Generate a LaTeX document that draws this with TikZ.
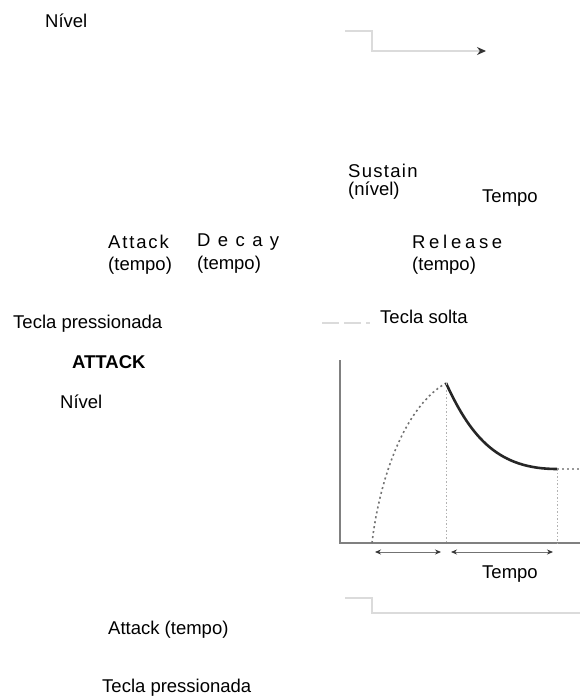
\documentclass[tikz,border=0pt]{standalone}
\usepackage{fontspec}
\setmainfont{Liberation Sans}
\usetikzlibrary{arrows,arrows.meta,positioning}
\tikzset{lbl/.style={inner sep=0pt, anchor=base west, font=\fontsize{18.5}{20}\selectfont}}
\tikzset{pale/.style={draw=black!14, line width=1.3pt}}
\tikzset{axis/.style={draw=black!50, line width=2pt}}
\tikzset{guide/.style={draw=black!30, line width=1pt, dash pattern=on 1.5pt off 2pt}}
\tikzset{dots/.style={draw=black!55, line width=1.6pt, dash pattern=on 2pt off 3pt}}
\tikzset{span/.style={draw=black!55, line width=0.8pt, {Stealth[black!80, length=6pt, width=5pt]}-{Stealth[black!80, length=6pt, width=5pt]}}}

\begin{document}
\begin{tikzpicture}[x=1pt, y=-1pt, >=stealth]
\useasboundingbox (0,0) rectangle (580,697);
% labels
\node[lbl] (nivTop) at (45,27) {Nível};
\node[lbl] (sus) at (348,177) {\addfontfeatures{LetterSpace=7}Sustain};
\node[lbl, below=18pt of sus.base west, anchor=base west] (susN) {(nível)};
\node[lbl] (tempoTop) at (482,202) {Tempo};
\node[lbl] (atk) at (108,248) {\addfontfeatures{LetterSpace=10}Attack};
\node[lbl, below=22pt of atk.base west, anchor=base west] (atkT) {(tempo)};
\node[lbl] (dec) at (197,246) {\addfontfeatures{LetterSpace=40}Decay};
\node[lbl, below=23pt of dec.base west, anchor=base west] (decT) {(tempo)};
\node[lbl] (rel) at (412,248) {\addfontfeatures{LetterSpace=20}Release};
\node[lbl, below=22pt of rel.base west, anchor=base west] (relT) {(tempo)};
\node[lbl] (pressA) at (13,328) {Tecla pressionada};
\node[lbl] (solta) at (380,323) {Tecla solta};
\node[lbl, font=\fontsize{18.5}{20}\selectfont\bfseries] (attack) at (72,368) {ATTACK};
\node[lbl] (nivMid) at (60,408) {Nível};
\node[lbl] (tempoBot) at (482,578) {Tempo};
\node[lbl] (atkBot) at (108,634) {Attack (tempo)};
\node[lbl] (pressB) at (102,692) {Tecla pressionada};

% key lines
\draw[pale, -{Stealth[black!80, length=9pt, width=8pt]}] (345,31) -- (372,31) -- (372,51) -- (486,51);
\draw[pale, dash pattern=on 17pt off 5pt] (322,323) -- (370,323);
\draw[pale] (345,598) -- (372,598) -- (372,613) -- (580,613);

% envelope
\coordinate (top) at (340,360);
\coordinate (org) at (340,543);
\coordinate (a0) at (372,543);
\coordinate (peak) at (446,383);
\coordinate (sl) at (557,469);
\draw[axis] (top) -- (org) -- (580,543);
\draw[dots] (a0) .. controls (378,490) and (400,410) .. (peak);
\draw[black!85, line width=2.6pt] (peak) .. controls (472,440) and (500,469) .. (sl);
\draw[guide] (peak) -- (peak |- org);
\draw[guide] (sl) -- (sl |- org);
\draw[dots, draw=black!40] (sl) -- (580,469);
\draw[span] (375,552) -- (441,552);
\draw[span] (451,552) -- (553,552);
\end{tikzpicture}
\end{document}
